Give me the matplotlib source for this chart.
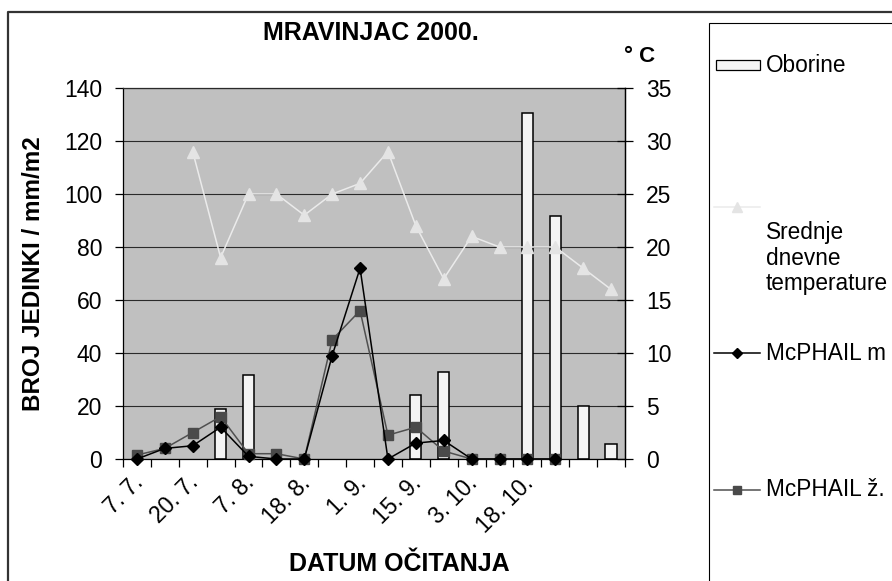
import numpy as np
import matplotlib
matplotlib.use('Agg')
import matplotlib.pyplot as plt
from matplotlib.lines import Line2D
from matplotlib.patches import Rectangle
from matplotlib.transforms import ScaledTranslation

plt.rcParams['font.family'] = ['Liberation Sans', 'DejaVu Sans']

nan = np.nan
# 18 datuma ocitanja, oznacen je svaki drugi
datumi = ['7. 7.', '', '20. 7.', '', '7. 8.', '', '18. 8.', '', '1. 9.', '',
          '15. 9.', '', '3. 10.', '', '18. 10.', '', '', '']
oborine = [nan, nan, nan, 18.7, 31.8, nan, nan, nan, nan, nan,
           24.1, 32.7, nan, nan, 130.5, 91.7, 20, 5.7]
temperature = [nan, nan, 29, 19, 25, 25, 23, 25, 26, 29,
               22, 17, 21, 20, 20, 20, 18, 16]
mcphail_m = [0, 4, 5, 12, 1, 0, 0, 39, 72, 0, 6, 7, 0, 0, 0, 0, nan, nan]
mcphail_z = [1.5, 4, 10, 16, 2, 2, 0, 45, 56, 9, 12, 3, 0, 0, 0, 0, nan, nan]

W, H = 892, 581
fig = plt.figure(figsize=(W / 100, H / 100), dpi=100)
ax = fig.add_axes([123 / W, (H - 459) / H, 502 / W, 371 / H])
ax2 = ax.twinx()

x = np.arange(len(datumi))
fs = 16.5
fl = 16.3

ax.set_facecolor('#C0C0C0')
ax.bar(x, oborine, width=0.4, color='#F4F4F4', edgecolor='black', linewidth=1.1, zorder=2)
ax.plot(x, mcphail_z, color='#505050', marker='s', markersize=7, linewidth=1.1,
        markerfacecolor='#4A4A4A', markeredgecolor='#4A4A4A', zorder=3, clip_on=False)
ax.plot(x, mcphail_m, color='black', marker='D', markersize=6.5, linewidth=1.1, zorder=4,
        clip_on=False)
ax2.plot(x, temperature, color='#EBEBEB', marker='^', markersize=8, linewidth=1.1,
         markerfacecolor='#E4E4E4', markeredgecolor='#E4E4E4')

ax.set_xlim(-0.5, len(datumi) - 0.5)
ax.set_ylim(0, 140)
ax2.set_ylim(0, 35)
ax.set_yticks(np.arange(0, 141, 20))
ax2.set_yticks(np.arange(0, 36, 5))
ax.yaxis.grid(True, color='#2A2A2A', linewidth=0.8)
ax.set_axisbelow(True)

ax.set_xticks(x)
ax.set_xticklabels(datumi, rotation=45, ha='right', va='baseline',
                   rotation_mode='anchor', fontsize=fs)
ax.set_xticks(np.arange(-0.5, len(datumi)), minor=True)
ax.tick_params(axis='x', which='major', length=0, pad=18)
ax.tick_params(axis='x', which='minor', length=6, width=0.9, direction='out')
for lab in ax.get_xticklabels():
    lab.set_transform(lab.get_transform() + ScaledTranslation(7 / 100, 0, fig.dpi_scale_trans))

ax.tick_params(axis='y', labelsize=fs, length=6, width=0.9, pad=9)
ax2.tick_params(axis='y', labelsize=fs, length=12, width=0.9, direction='inout', pad=9)

ax.spines['top'].set_color('#2A2A2A')
ax2.spines['top'].set_visible(False)
ax2.spines['left'].set_visible(False)
ax2.spines['bottom'].set_visible(False)
for a in (ax, ax2):
    for s in a.spines.values():
        s.set_linewidth(0.9)

# naslovi
fig.text(371 / W, 1 - 33 / H, 'MRAVINJAC 2000.', ha='center', va='center',
         fontsize=18, fontweight='bold')
fig.text(640 / W, 1 - 56 / H, '° C', ha='center', va='center', fontsize=16, fontweight='bold')
fig.text(399 / W, 1 - 564 / H, 'DATUM OČITANJA', ha='center', va='center',
         fontsize=18, fontweight='bold')
fig.text(34 / W, 1 - 274 / H, 'BROJ JEDINKI / mm/m2', ha='center', va='center',
         rotation=90, fontsize=17.5, fontweight='bold')

# okvir grafikona i legende (u pikselima)
ov = fig.add_axes([0, 0, 1, 1], zorder=-1)
ov.set_xlim(0, W)
ov.set_ylim(H, 0)
ov.axis('off')
ov.plot([8, 8, W + 5], [H + 5, 12, 12], color='#333333', linewidth=1.6)

lg = fig.add_axes([0, 0, 1, 1], zorder=5)
lg.set_xlim(0, W)
lg.set_ylim(H, 0)
lg.axis('off')
lg.patch.set_alpha(0)
lg.add_patch(Rectangle((709, 23), 300, 600, facecolor='white', edgecolor='black',
                       linewidth=0.8, clip_on=False))
lg.add_patch(Rectangle((716, 60), 44, 10, facecolor='#F4F4F4', edgecolor='black',
                       linewidth=0.9))
lg.text(766, 66, 'Oborine', fontsize=fl, va='center')

lg.add_line(Line2D([714, 760], [207, 207], color='#EBEBEB', linewidth=1.1))
lg.plot([737], [207], marker='^', markersize=7, color='#E4E4E4')
lg.text(766, 221, 'Srednje\ndnevne\ntemperature', fontsize=fl, va='top', linespacing=1.15)

lg.add_line(Line2D([714, 760], [353, 353], color='black', linewidth=1.1))
lg.plot([737], [353], marker='D', markersize=5.5, color='black')
lg.text(766, 353, 'McPHAIL m', fontsize=fl, va='center')

lg.add_line(Line2D([714, 760], [490, 490], color='#505050', linewidth=1.1))
lg.plot([737], [490], marker='s', markersize=6, color='#4A4A4A')
lg.text(766, 490, 'McPHAIL ž.', fontsize=fl, va='center')

fig.savefig('out.png', dpi=100)
